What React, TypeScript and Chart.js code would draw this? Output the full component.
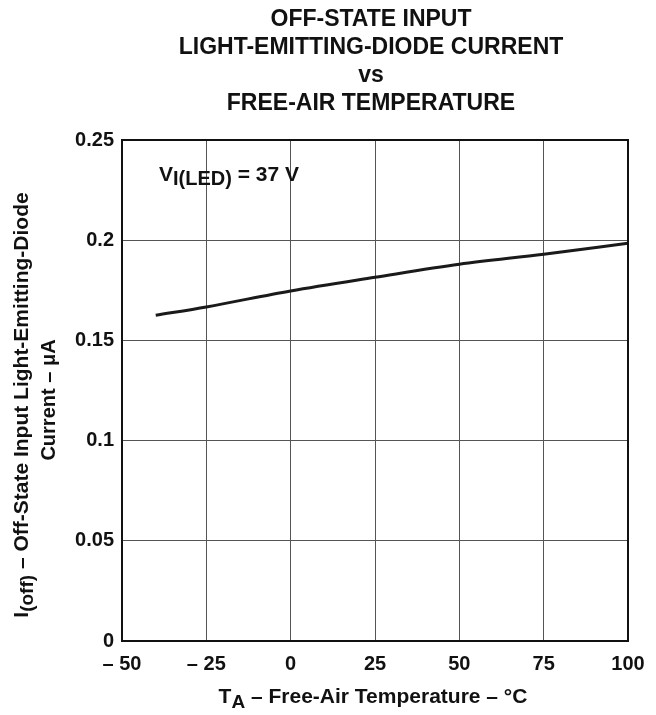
import React, { useEffect, useRef } from "react";
import { Chart, registerables } from "chart.js";

Chart.register(...registerables);

const temperatures = [-40, -25, 0, 25, 50, 75, 100];
const currents = [0.1625, 0.1667, 0.1747, 0.1815, 0.188, 0.193, 0.1985];
const xTicks = [-50, -25, 0, 25, 50, 75, 100];
const yTicks = [0, 0.05, 0.1, 0.15, 0.2, 0.25];
const titleLines = ["OFF-STATE INPUT", "LIGHT-EMITTING-DIODE CURRENT", "vs", "FREE-AIR TEMPERATURE"];

const FONT = '"Liberation Sans", Arial, Helvetica, sans-serif';

type Seg = { t: string; size: number; dy: number };

function drawRich(ctx: CanvasRenderingContext2D, segs: Seg[], x: number, y: number, align: "left" | "center") {
  const widths = segs.map((s) => {
    ctx.font = `bold ${s.size}px ${FONT}`;
    return ctx.measureText(s.t).width;
  });
  const total = widths.reduce((a, b) => a + b, 0);
  let cx = align === "center" ? x - total / 2 : x;
  ctx.textAlign = "left";
  ctx.textBaseline = "alphabetic";
  segs.forEach((s, i) => {
    ctx.font = `bold ${s.size}px ${FONT}`;
    ctx.fillText(s.t, cx, y + s.dy);
    cx += widths[i];
  });
}

const textPlugin = {
  id: "textPlugin",
  afterDraw(chart: any) {
    const ctx: CanvasRenderingContext2D = chart.ctx;
    const area = chart.chartArea;
    ctx.save();
    ctx.fillStyle = "#111";
    ctx.strokeStyle = "#111";
    ctx.lineWidth = 2;
    ctx.strokeRect(area.left, area.top, area.right - area.left, area.bottom - area.top);

    const baselines = [26, 54, 82, 110];
    titleLines.forEach((line, i) => {
      drawRich(ctx, [{ t: line, size: 23, dy: 0 }], 371, baselines[i], "center");
    });

    drawRich(
      ctx,
      [
        { t: "V", size: 21, dy: 0 },
        { t: "I(LED)", size: 20, dy: 4 },
        { t: " = 37 V", size: 21, dy: 0 },
      ],
      159,
      181,
      "left"
    );

    drawRich(
      ctx,
      [
        { t: "T", size: 21, dy: 0 },
        { t: "A", size: 19, dy: 5 },
        { t: " – Free-Air Temperature – °C", size: 21, dy: 0 },
      ],
      373,
      703,
      "center"
    );

    ctx.save();
    ctx.translate(28, 405);
    ctx.rotate(-Math.PI / 2);
    drawRich(
      ctx,
      [
        { t: "I", size: 21, dy: 0 },
        { t: "(off)", size: 19, dy: 5 },
        { t: " – Off-State Input Light-Emitting-Diode", size: 21, dy: 0 },
      ],
      0,
      0,
      "center"
    );
    ctx.restore();
    ctx.save();
    ctx.translate(55, 400);
    ctx.rotate(-Math.PI / 2);
    drawRich(ctx, [{ t: "Current – μA", size: 20, dy: 0 }], 0, 0, "center");
    ctx.restore();
    ctx.restore();
  },
};

export default function App() {
  const ref = useRef<HTMLCanvasElement | null>(null);
  useEffect(() => {
    if (!ref.current) return;
    const chart = new Chart(ref.current, {
      type: "line",
      data: {
        datasets: [
          {
            data: temperatures.map((t, i) => ({ x: t, y: currents[i] })),
            borderColor: "#1a1a1a",
            borderWidth: 3,
            pointRadius: 0,
            cubicInterpolationMode: "monotone",
            fill: false,
          },
        ],
      },
      options: {
        animation: false,
        responsive: false,
        devicePixelRatio: 1,
        layout: { padding: { left: 0, top: 140, right: 28, bottom: 0 } },
        plugins: { legend: { display: false }, tooltip: { enabled: false }, title: { display: false } },
        scales: {
          x: {
            type: "linear",
            min: -50,
            max: 100,
            afterBuildTicks: (scale: any) => {
              scale.ticks = xTicks.map((v) => ({ value: v }));
            },
            afterFit: (scale: any) => {
              scale.height = 74;
              scale.paddingLeft = 0;
              scale.paddingRight = 0;
            },
            grid: { color: "#555", lineWidth: 1, drawTicks: false },
            border: { display: false },
            ticks: {
              padding: 11,
              color: "#111",
              font: { family: FONT, size: 20, weight: "bold" },
              maxRotation: 0,
              autoSkip: false,
              callback: (v: any) => (Number(v) < 0 ? "– " + Math.abs(Number(v)) : String(v)),
            },
          },
          y: {
            type: "linear",
            min: 0,
            max: 0.25,
            afterBuildTicks: (scale: any) => {
              scale.ticks = yTicks.map((v) => ({ value: v }));
            },
            afterFit: (scale: any) => {
              scale.width = 122;
              scale.paddingTop = 0;
              scale.paddingBottom = 0;
            },
            grid: { color: "#555", lineWidth: 1, drawTicks: false },
            border: { display: false },
            ticks: {
              padding: 8,
              color: "#111",
              font: { family: FONT, size: 20, weight: "bold" },
              autoSkip: false,
              callback: (v: any) => String(Number(Number(v).toFixed(2))),
            },
          },
        },
      },
      plugins: [textPlugin],
    } as any);
    return () => chart.destroy();
  }, []);
  return (
    <div style={{ position: "absolute", left: 0, top: 0, width: 656, height: 715, background: "#fff" }}>
      <canvas ref={ref} width={656} height={715} style={{ width: 656, height: 715, display: "block" }} />
    </div>
  );
}
